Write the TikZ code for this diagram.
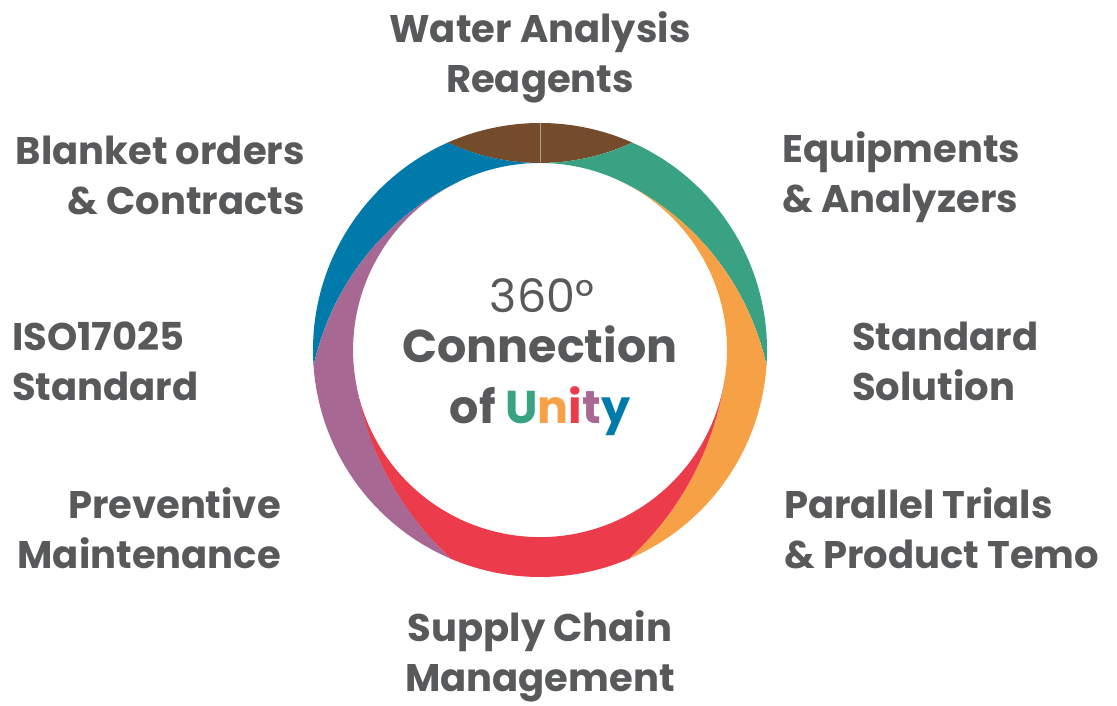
\documentclass[tikz,border=0pt]{standalone}
\usepackage{fontspec}
\setmainfont{Poppins}

\definecolor{ringbrown}{RGB}{116,76,43}
\definecolor{ringgreen}{RGB}{56,162,130}
\definecolor{ringorange}{RGB}{246,161,70}
\definecolor{ringred}{RGB}{236,60,76}
\definecolor{ringpurple}{RGB}{168,104,148}
\definecolor{ringblue}{RGB}{0,122,170}
\definecolor{txtgray}{RGB}{88,89,91}

\tikzset{
  topic/.style={font=\fontsize{38.5}{50}\selectfont\bfseries, text=txtgray, inner sep=0pt},
  hub/.style={font=\fontsize{46}{50}\selectfont, text=txtgray, inner sep=0pt, anchor=base},
}

\begin{document}
\begin{tikzpicture}[x=1pt,y=1pt]
\useasboundingbox (0,0) rectangle (1117,706);

% Ring made of six colour bands
\begin{scope}[shift={(540,356)}]
  \fill[ringbrown] (66:227) arc[start angle=66, end angle=114, radius=227]
    arc[start angle=-114.9, end angle=-90, radius=219]
    arc[start angle=-90, end angle=-65.1, radius=219] -- cycle;
  \fill[ringgreen] (-4:227) arc[start angle=-4, end angle=66, radius=227]
    arc[start angle=-65.1, end angle=-90, radius=219]
    arc[start angle=90, end angle=64, radius=187]
    arc[start angle=64, end angle=12.3, radius=268.2] -- cycle;
  \fill[ringorange] (-67:227) arc[start angle=-67, end angle=-4, radius=227]
    arc[start angle=12.3, end angle=64, radius=268.2]
    arc[start angle=64, end angle=-8, radius=187]
    arc[start angle=-8, end angle=-47.6, radius=305.1] -- cycle;
  \fill[ringred] (247:227) arc[start angle=247, end angle=293, radius=227]
    arc[start angle=-47.6, end angle=-8, radius=305.1]
    arc[start angle=-8, end angle=-172, radius=187]
    arc[start angle=188, end angle=227.6, radius=305.1] -- cycle;
  \fill[ringpurple] (184:227) arc[start angle=184, end angle=247, radius=227]
    arc[start angle=227.6, end angle=188, radius=305.1]
    arc[start angle=188, end angle=116, radius=187]
    arc[start angle=116, end angle=167.7, radius=268.2] -- cycle;
  \fill[ringblue] (114:227) arc[start angle=114, end angle=184, radius=227]
    arc[start angle=167.7, end angle=116, radius=268.2]
    arc[start angle=116, end angle=90, radius=187]
    arc[start angle=-90, end angle=-114.9, radius=219] -- cycle;
  % thin seam in the brown cap
  \draw[ringbrown!55!white, line width=0.6pt] (90:187.5) -- (90:226.5);
\end{scope}

% Centre text
\node[hub] (deg) at (542,393) {360°};
\node[hub, font=\fontsize{46}{50}\selectfont\bfseries] (conn) at (540,343) {Connection};
\node[hub, font=\fontsize{46}{50}\selectfont\bfseries] (unity) at (540,282)
  {of \textcolor{ringgreen}{U}\textcolor{ringorange}{n}\textcolor{ringred}{i}\textcolor{ringpurple}{t}\textcolor{ringblue}{y}};

% Labels around the ring
\node[topic, align=center] (water) at (540,649) {Water Analysis\\Reagents};
\node[topic, align=right, anchor=east] (blanket) at (305,531) {Blanket orders\\\& Contracts};
\node[topic, align=left, anchor=west] (equip) at (782,529) {Equipments\\\& Analyzers};
\node[topic, align=left, anchor=west] (iso) at (12,345) {ISO17025\\Standard};
\node[topic, align=left, anchor=west] (solution) at (852,345) {Standard\\Solution};
\node[topic, align=right, anchor=east] (prevent) at (281,178) {Preventive\\Maintenance};
\node[topic, align=left, anchor=west] (trials) at (784,178) {Parallel Trials\\\& Product Temo};
\node[topic, align=center] (supply) at (540,50) {Supply Chain\\Management};
\end{tikzpicture}
\end{document}
